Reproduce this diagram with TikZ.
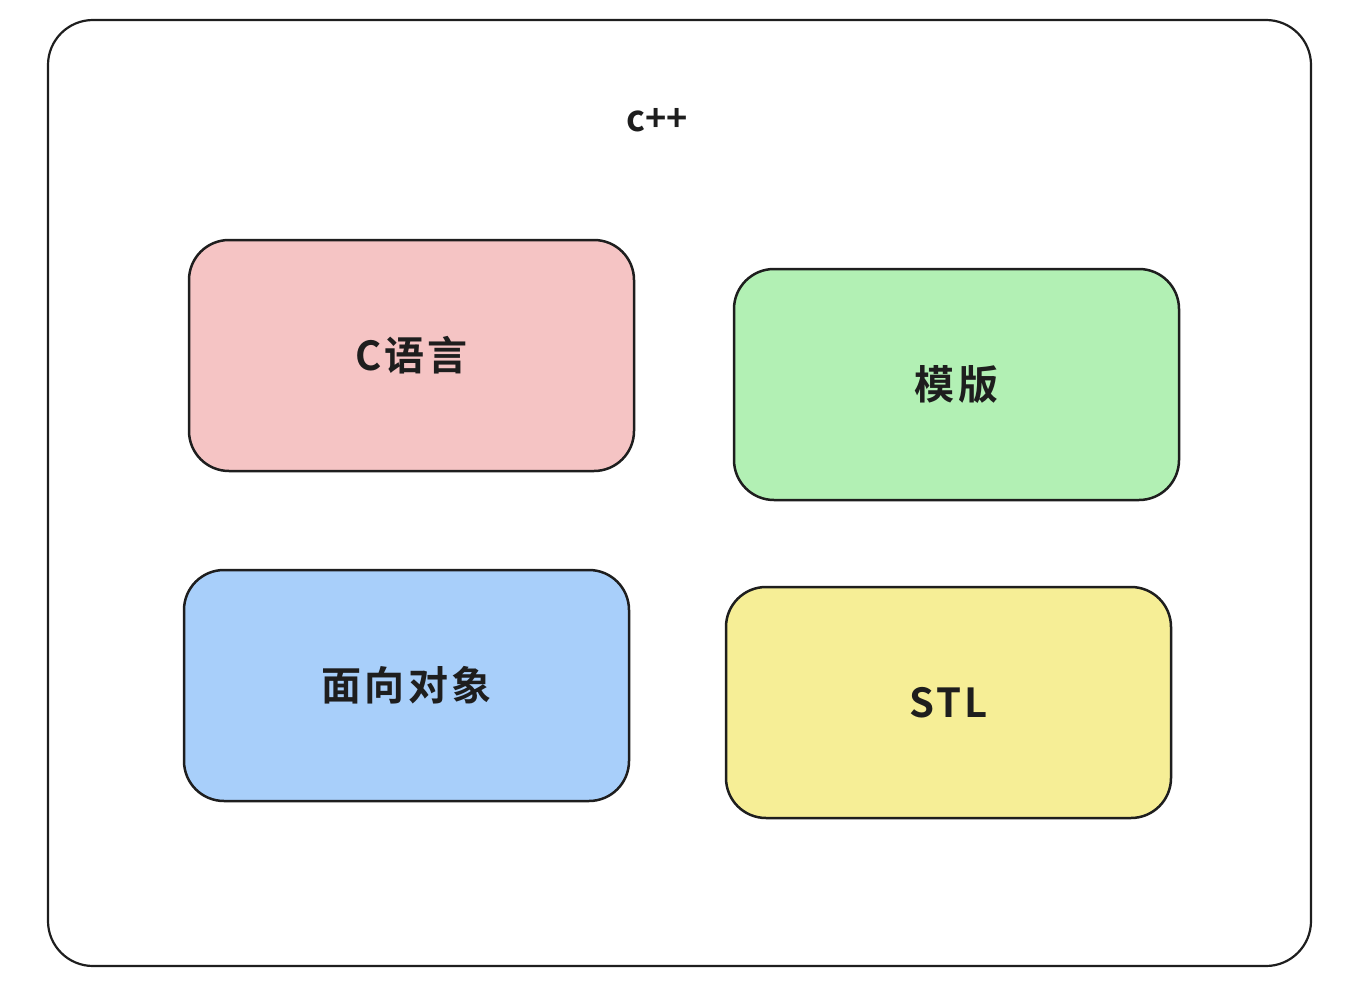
\documentclass[tikz,border=0pt]{standalone}
\usepackage{fontspec}
\setmainfont{Noto Sans CJK SC}[BoldFont=Noto Sans CJK SC Bold]
\usetikzlibrary{positioning}

\definecolor{redfill}{HTML}{F5C4C4}
\definecolor{greenfill}{HTML}{B2F0B4}
\definecolor{bluefill}{HTML}{A8CFFA}
\definecolor{yellowfill}{HTML}{F6EE96}
\definecolor{ink}{HTML}{1E1E1E}

\begin{document}
\begin{tikzpicture}[x=1pt,y=-1pt,
    box/.style={draw=ink, line width=2.5pt, rounded corners=40pt,
        minimum width=445pt, minimum height=231pt,
        font=\fontsize{40}{48}\selectfont\bfseries\addfontfeatures{LetterSpace=8},
        text=ink}]

\useasboundingbox (0,0) rectangle (1368,990);

% Outer frame
\node[draw=ink, line width=2.2pt, rounded corners=45pt, fill=white,
    minimum width=1263pt, minimum height=946pt] (frame) at (679.5,493) {};

% Title
\node[font=\fontsize{36}{42}\selectfont\bfseries, text=ink] (cpp) at (657,120) {c++};

% Parts
\node[box, fill=redfill] (clang) at (411.5,355.5) {C语言};
\node[box, fill=greenfill] (template) at (956.5,384.5) {模版};
\node[box, fill=bluefill] (oop) at (406.5,685.5) {面向对象};
\node[box, fill=yellowfill] (stl) at (948.5,702.5) {STL};

\end{tikzpicture}
\end{document}
